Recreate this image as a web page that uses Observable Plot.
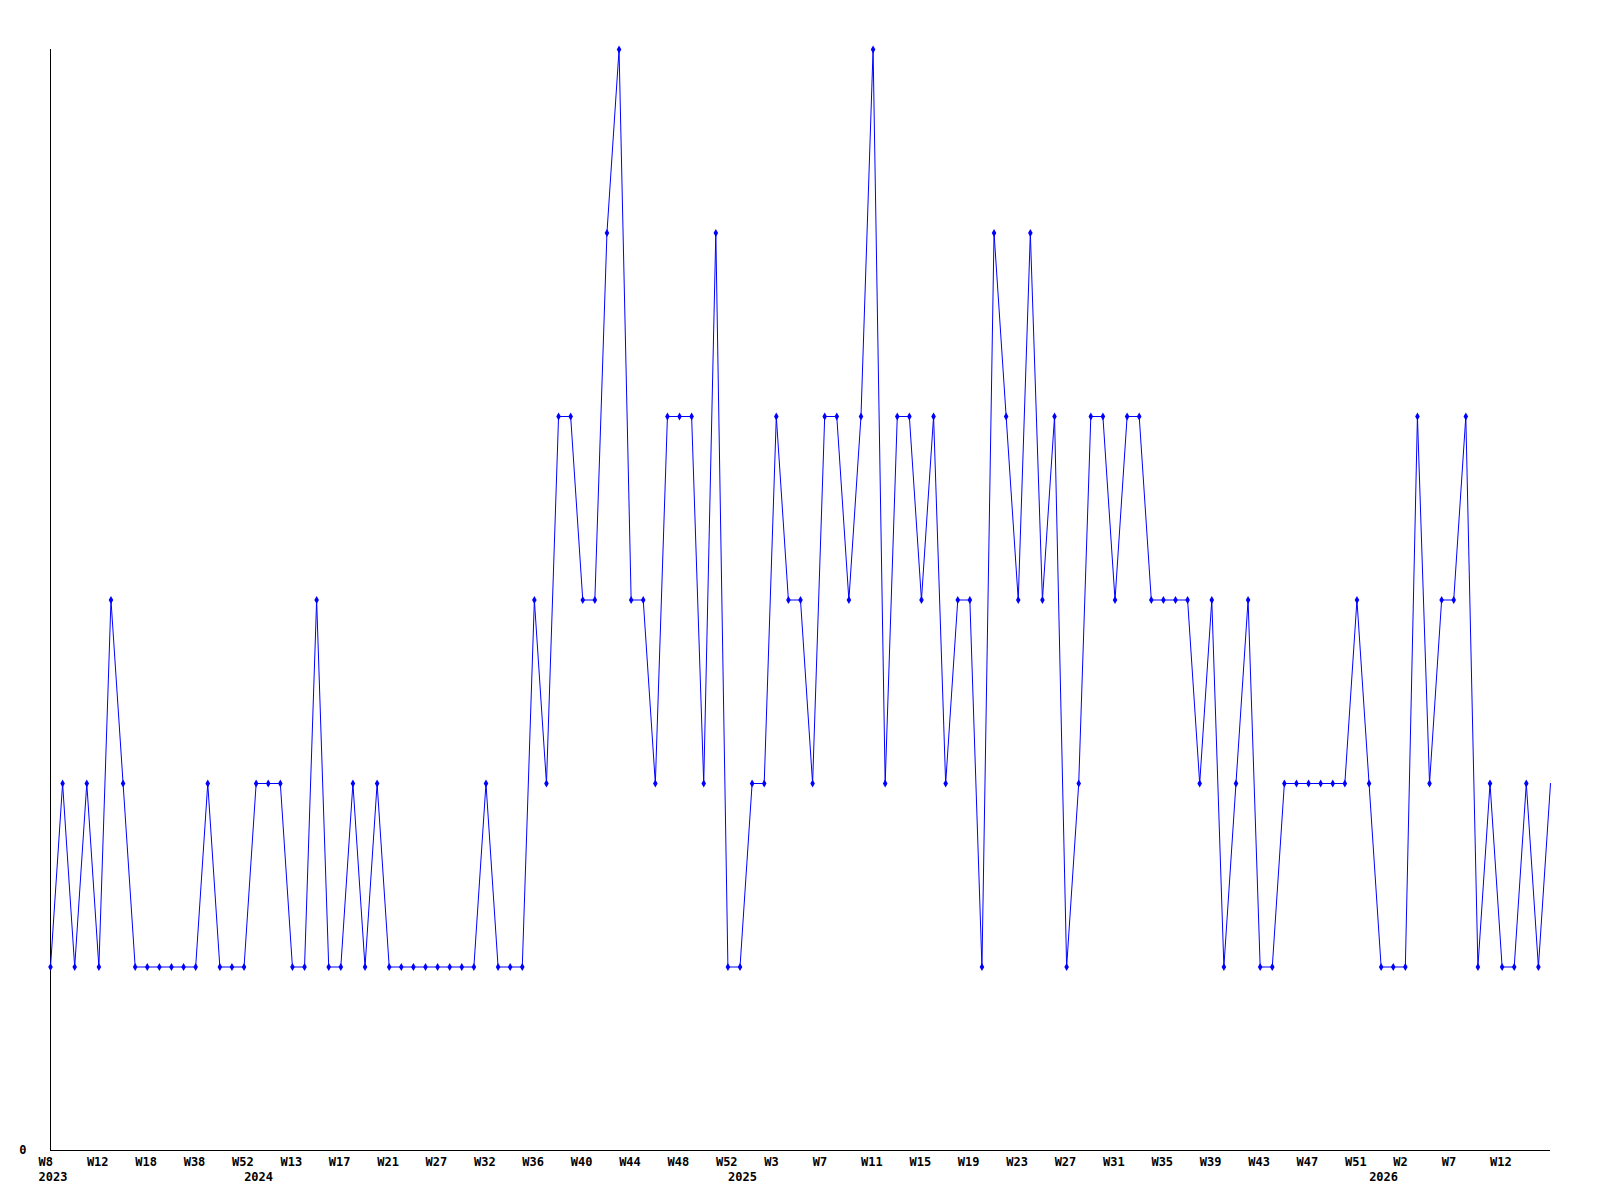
<!DOCTYPE html>
<html><head><meta charset="utf-8">
<script src="https://cdn.jsdelivr.net/npm/d3@7"></script>
<script src="https://cdn.jsdelivr.net/npm/@observablehq/plot@0.6"></script>
<style>body{margin:0;background:#fff}</style>
</head><body><div id="chart"></div>
<script>
const years = [
  2023,2023,2023,2023,2023,2023,2023,2023,2023,2023,2023,2023,2023,2023,2023,2023,2023,
  2024,2024,2024,2024,2024,2024,2024,2024,2024,2024,2024,2024,2024,2024,2024,2024,2024,2024,2024,2024,2024,2024,2024,2024,2024,2024,2024,2024,2024,2024,2024,2024,2024,2024,2024,2024,2024,2024,2024,2024,
  2025,2025,2025,2025,2025,2025,2025,2025,2025,2025,2025,2025,2025,2025,2025,2025,2025,2025,2025,2025,2025,2025,2025,2025,2025,2025,2025,2025,2025,2025,2025,2025,2025,2025,2025,2025,2025,2025,2025,2025,2025,2025,2025,2025,2025,2025,2025,2025,2025,2025,2025,2025,2025,
  2026,2026,2026,2026,2026,2026,2026,2026,2026,2026,2026,2026,2026,2026,2026
];
const weeks = [
  8,9,10,11,12,14,15,17,18,22,27,33,38,41,45,49,52,
  3,8,11,13,14,15,16,17,18,19,20,21,22,24,25,27,28,30,31,32,33,34,35,36,37,38,39,40,41,42,43,44,45,46,47,48,49,50,51,52,
  0,1,2,3,4,5,6,7,8,9,10,11,12,13,14,15,16,17,18,19,20,21,22,23,24,25,26,27,28,29,30,31,32,33,34,35,36,37,38,39,40,41,42,43,44,45,46,47,48,49,50,51,52,
  0,1,2,3,4,6,7,8,9,11,12,13,14,15,16
];
const values = [
  1,2,1,2,1,3,2,1,1,1,1,1,1,2,1,1,1,
  2,2,2,1,1,3,1,1,2,1,2,1,1,1,1,1,1,1,1,2,1,1,1,3,2,4,4,3,3,5,6,3,3,2,4,4,4,2,5,1,
  1,2,2,4,3,3,2,4,4,3,4,6,2,4,4,3,4,2,3,3,1,5,4,3,5,3,4,1,2,4,4,3,4,4,3,3,3,3,2,3,1,2,3,1,1,2,2,2,2,2,2,3,2,
  1,1,1,4,2,3,3,4,1,2,1,1,2,1,2
];
const weekTicks = [
  "2023-W8","2023-W12","2023-W18","2023-W38","2023-W52",
  "2024-W13","2024-W17","2024-W21","2024-W27","2024-W32","2024-W36","2024-W40","2024-W44","2024-W48","2024-W52",
  "2025-W3","2025-W7","2025-W11","2025-W15","2025-W19","2025-W23","2025-W27","2025-W31","2025-W35","2025-W39","2025-W43","2025-W47","2025-W51",
  "2026-W2","2026-W7","2026-W12"
];
const yearTicks = ["2023-W8","2024-W3","2025-W0","2026-W0"];
const yTicks = [0];

const data = values.map((v, i) => ({i, key: `${years[i]}-W${weeks[i]}`, value: v}));
const keys = data.map(d => d.key);
const n = data.length;
const weekTickIdx = weekTicks.map(k => keys.indexOf(k));
const yearTickIdx = yearTicks.map(k => keys.indexOf(k));

const chart = Plot.plot({
  width: 1600,
  height: 1200,
  marginTop: 49,
  marginBottom: 50,
  marginLeft: 50,
  marginRight: 50,
  style: {fontFamily: "'DejaVu Sans Mono', monospace", fontSize: "12px", fontWeight: "bold", color: "black", background: "white"},
  x: {type: "linear", domain: [0, n - 1], axis: null},
  y: {domain: [0, 6], axis: null},
  marks: [
    Plot.axisY({ticks: yTicks, tickSize: 0, tickPadding: 24, label: null, tickFormat: d => String(d)}),
    Plot.axisX({ticks: weekTickIdx, tickSize: 0, tickPadding: 7, label: null, textAnchor: "start", dx: -12, tickFormat: i => keys[i].split("-")[1]}),
    Plot.axisX({ticks: yearTickIdx, tickSize: 0, tickPadding: 22, label: null, textAnchor: "start", dx: -12, tickFormat: i => keys[i].split("-")[0]}),
    Plot.ruleY([0], {stroke: "black", strokeWidth: 1}),
    Plot.ruleX([0], {y1: 0, y2: 6, stroke: "black", strokeWidth: 1}),
    Plot.line(data, {x: "i", y: "value", stroke: "#0000ff", strokeWidth: 1}),
    Plot.dot(data, {x: "i", y: "value", filter: (d, i) => i < n - 1, symbol: "diamond", r: 2.4, fill: "#0000ff", stroke: "none"})
  ]
});
document.getElementById("chart").appendChild(chart);
</script>
</body></html>
